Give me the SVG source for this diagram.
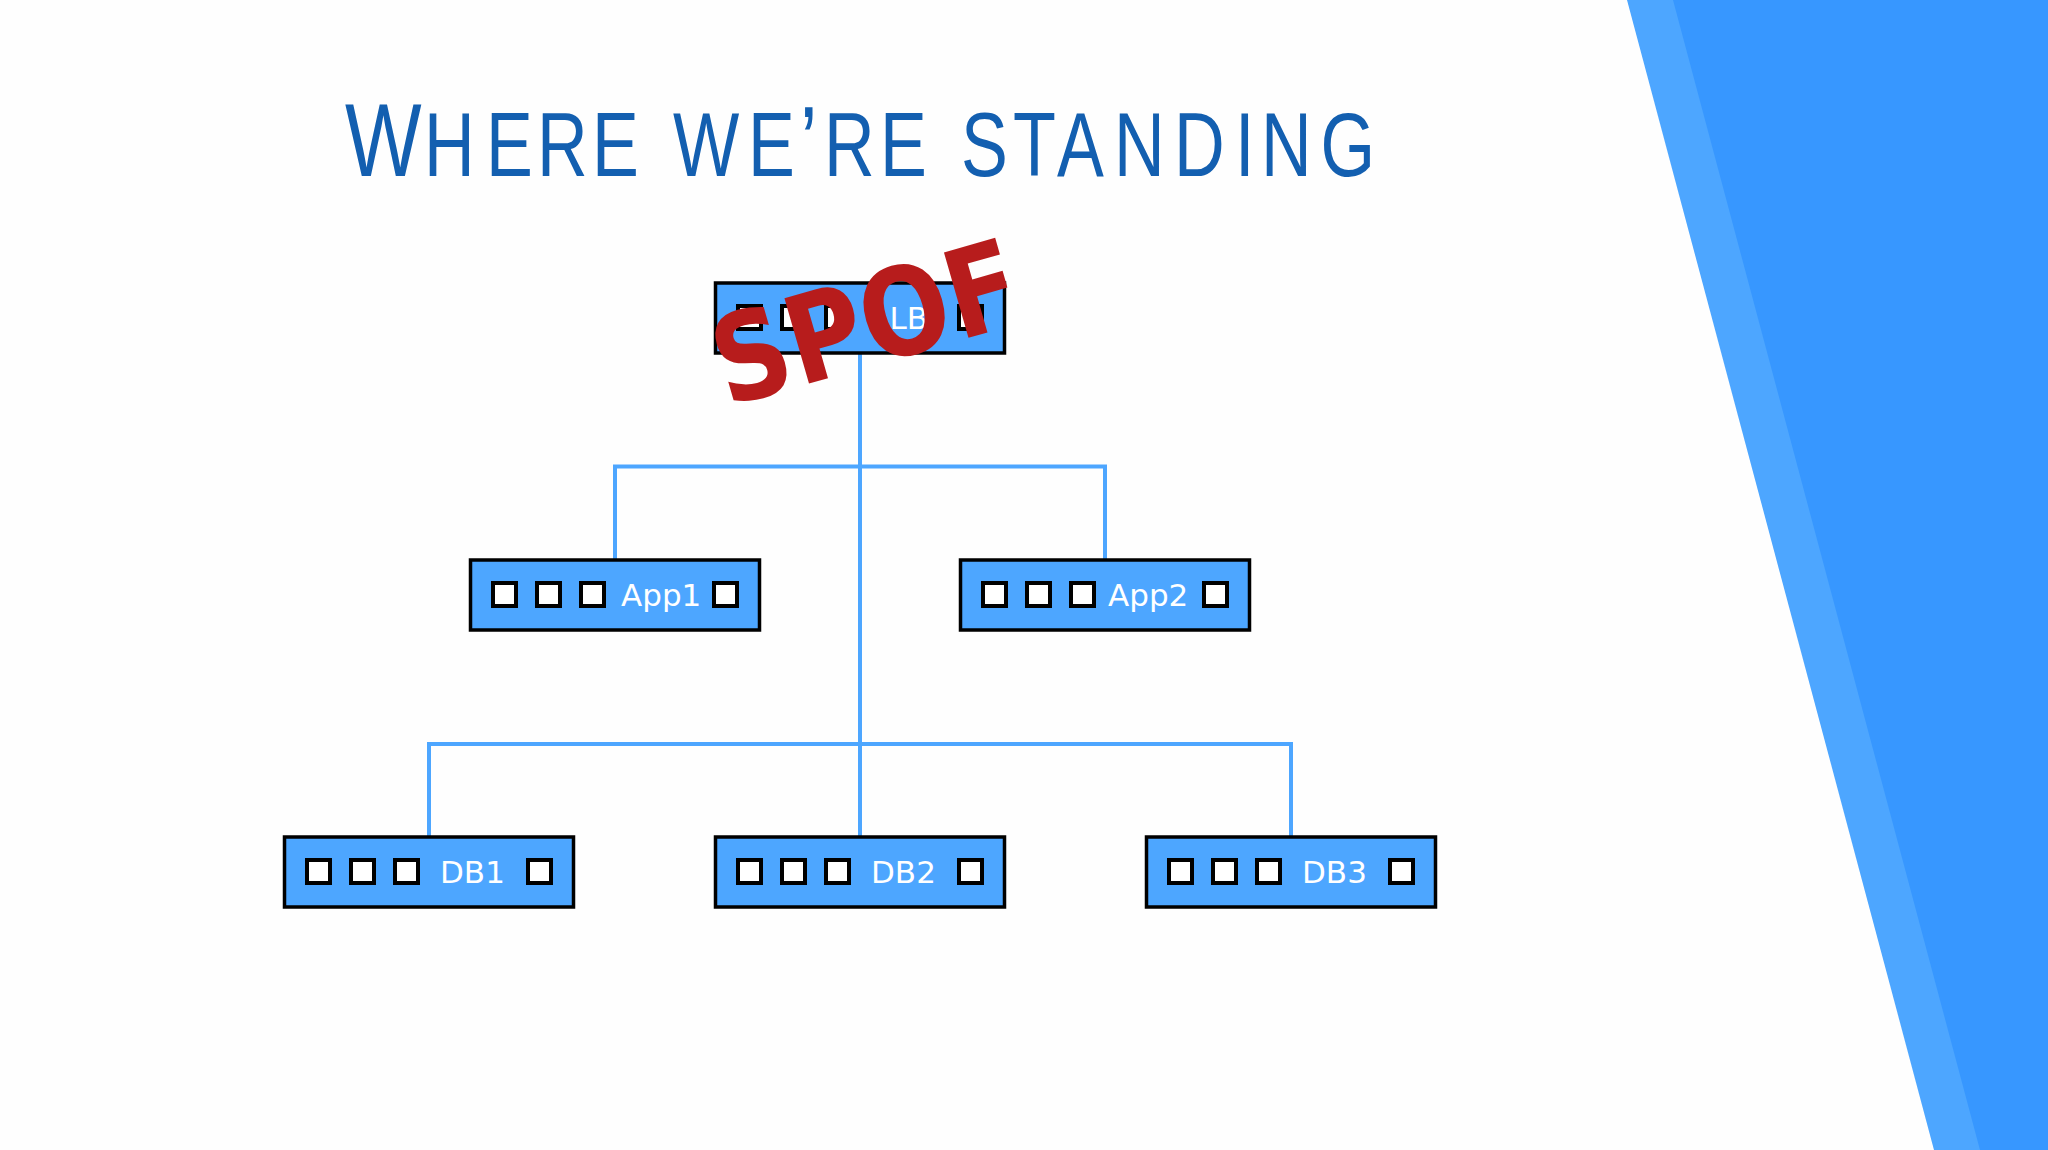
<svg xmlns="http://www.w3.org/2000/svg" width="2048" height="1150" viewBox="0 0 2048 1150">
<style>
.box{fill:#4da6ff;stroke:#000;stroke-width:3.500}
.port{fill:#fff;stroke:#000;stroke-width:4}
.lbl{font-family:"DejaVu Sans",sans-serif;font-size:31px;fill:#fff}
.wire{fill:none;stroke:#4da6ff;stroke-width:4}
</style>
<defs>
<g id="ports">
<rect class="port" x="22.500" y="23" width="23" height="23"/>
<rect class="port" x="66.500" y="23" width="23" height="23"/>
<rect class="port" x="110.500" y="23" width="23" height="23"/>
<rect class="port" x="243.500" y="23" width="23" height="23"/>
</g>
</defs>
<rect width="2048" height="1150" fill="#fefefe"/>
<polygon id="band-light" points="1627,0 2048,0 2048,1150 1934,1150" fill="#4da6ff"/>
<polygon id="band-dark" points="1673,0 2048,0 2048,1150 1980,1150" fill="#3797ff"/>
<text id="title" transform="scale(.78 1)" y="176.500" x="442.300 543.600 623.100 688.500 759 820 862.800 959 1025.600 1056.400 1128.200 1190 1232 1298.700 1355.100 1428.200 1505.100 1583.300 1616.700 1693" font-family="'Liberation Sans',sans-serif" font-size="90" fill="#135fb0"><tspan font-size="104">W</tspan>HERE WE<tspan font-size="100">’</tspan>RE STANDING</text>
<g id="connectors">
<path class="wire" d="M860 354V838"/>
<path class="wire" d="M615 559V466.500H1105V559"/>
<path class="wire" d="M429 836V744H1291V836"/>
</g>
<g id="node-app1" transform="translate(470.500,560)"><rect class="box" width="289" height="70"/><use href="#ports"/><text class="lbl" x="150.500" y="46">App1</text></g>
<g id="node-app2" transform="translate(960.500,560)"><rect class="box" width="289" height="70"/><use href="#ports"/><text class="lbl" x="147.500" y="46">App2</text></g>
<g id="node-db1" transform="translate(284.500,837)"><rect class="box" width="289" height="70"/><use href="#ports"/><text class="lbl" x="155.500" y="46">DB1</text></g>
<g id="node-db2" transform="translate(715.500,837)"><rect class="box" width="289" height="70"/><use href="#ports"/><text class="lbl" x="155.500" y="46">DB2</text></g>
<g id="node-db3" transform="translate(1146.500,837)"><rect class="box" width="289" height="70"/><use href="#ports"/><text class="lbl" x="155.500" y="46">DB3</text></g>
<g id="node-lb" transform="translate(715.500,283)"><rect class="box" width="289" height="70"/><use href="#ports"/><text class="lbl" x="174" y="46">LB</text></g>
<text id="spof" transform="translate(727,407) rotate(-16) scale(.86 1)" font-family="'DejaVu Sans',sans-serif" font-weight="700" font-size="122" fill="#b71c1c">SPOF</text>
</svg>
